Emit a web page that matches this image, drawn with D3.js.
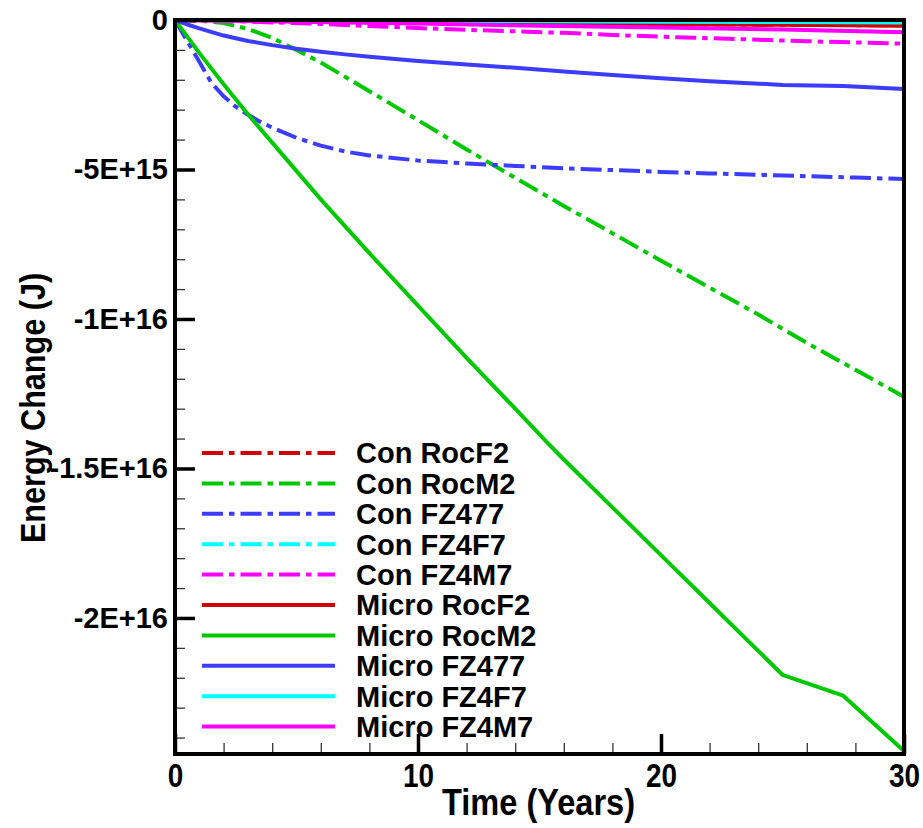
<!DOCTYPE html>
<html>
<head>
<meta charset="utf-8">
<script src="https://cdn.jsdelivr.net/npm/d3@7"></script>
<style>
  html, body { margin: 0; padding: 0; background: #fff; }
  svg { display: block; font-family: "Liberation Sans", Arial, sans-serif; font-weight: bold; }
</style>
</head>
<body>
<div id="chart"></div>
<script>
// Years and energy change (J) for each run
const tRocM2Micro = [0, 1, 2, 3, 4, 6, 8, 10, 12, 14, 15.4, 16, 18, 20, 22, 24, 25, 27.5, 30];
const microRocM2 = [0, -1.1e15, -2.15e15, -3.15e15, -4.1e15, -6.0e15, -7.8e15, -9.55e15, -11.3e15, -13.0e15, -14.2e15,
  -14.7e15, -16.3e15, -17.9e15, -19.5e15, -21.1e15, -21.9e15, -22.6e15, -24.45e15];

const tRocM2Con = [0, 1, 2, 3, 4, 5, 6, 8, 10, 12, 14, 16, 18, 20, 22, 24, 26, 28, 30];
const conRocM2 = [0, -0.03e15, -0.1e15, -0.3e15, -0.6e15, -1.0e15, -1.42e15, -2.38e15, -3.35e15, -4.33e15, -5.28e15,
  -6.22e15, -7.13e15, -8.05e15, -8.95e15, -9.85e15, -10.8e15, -11.7e15, -12.6e15];

const tFZ477Con = [0, 0.5, 1, 1.5, 2, 2.5, 3, 3.5, 4, 5, 6, 7, 8, 10, 12, 14, 16, 18, 20, 22, 25, 28, 30];
const conFZ477 = [0, -0.7e15, -1.4e15, -2.1e15, -2.55e15, -2.9e15, -3.17e15, -3.4e15, -3.6e15, -3.94e15, -4.2e15,
  -4.4e15, -4.53e15, -4.7e15, -4.8e15, -4.88e15, -4.96e15, -5.02e15, -5.08e15, -5.13e15, -5.2e15, -5.27e15, -5.32e15];

const tFZ477Micro = [0, 0.5, 1, 2, 3, 4, 5, 6, 7, 8, 10, 12, 14, 16, 18, 20, 22, 25, 27.5, 30];
const microFZ477 = [0, -0.15e15, -0.28e15, -0.52e15, -0.7e15, -0.84e15, -0.96e15, -1.06e15, -1.15e15, -1.23e15,
  -1.37e15, -1.49e15, -1.6e15, -1.72e15, -1.84e15, -1.95e15, -2.05e15, -2.17e15, -2.21e15, -2.31e15];

const tFZ4M7Con = [0, 2, 4, 6, 8, 10, 12, 14, 16, 18, 20, 22, 24, 26, 28, 30];
const conFZ4M7 = [0, -0.03e15, -0.08e15, -0.13e15, -0.2e15, -0.27e15, -0.33e15, -0.38e15, -0.43e15, -0.5e15,
  -0.56e15, -0.61e15, -0.66e15, -0.71e15, -0.75e15, -0.79e15];

const tSmall = [0, 5, 10, 15, 20, 25, 30];
const microFZ4M7 = [0, -0.06e15, -0.12e15, -0.19e15, -0.25e15, -0.32e15, -0.41e15];
const conRocF2 = [0, -0.04e15, -0.08e15, -0.11e15, -0.14e15, -0.16e15, -0.18e15];
const microRocF2 = [0, -0.03e15, -0.07e15, -0.1e15, -0.13e15, -0.16e15, -0.19e15];
const conFZ4F7 = [0, -0.01e15, -0.02e15, -0.03e15, -0.04e15, -0.05e15, -0.06e15];
const microFZ4F7 = [0, -0.01e15, -0.03e15, -0.04e15, -0.06e15, -0.07e15, -0.08e15];

const seriesNames = ["Con RocF2", "Con RocM2", "Con FZ477", "Con FZ4F7", "Con FZ4M7",
  "Micro RocF2", "Micro RocM2", "Micro FZ477", "Micro FZ4F7", "Micro FZ4M7"];
const seriesColors = ["#d00000", "#00c800", "#3c3cff", "#00ffff", "#ff00ff",
  "#d00000", "#00c800", "#3c3cff", "#00ffff", "#ff00ff"];

const xMajor = [0, 10, 20, 30];
const xMinor = d3.range(2, 30, 2).filter(d => d % 10 !== 0);
const yMajor = [0, -5e15, -1e16, -1.5e16, -2e16];
const yMajorLabels = ["0", "-5E+15", "-1E+16", "-1.5E+16", "-2E+16"];
const yMinor = d3.range(-1e15, -24.5e15, -1e15).filter(d => Math.round(d / 1e15) % 5 !== 0);

// pair up times and values
const zip = (ts, vs) => ts.map((t, i) => ({ t: t, v: vs[i] }));
const lines = [
  zip(tSmall, conRocF2), zip(tRocM2Con, conRocM2), zip(tFZ477Con, conFZ477), zip(tSmall, conFZ4F7), zip(tFZ4M7Con, conFZ4M7),
  zip(tSmall, microRocF2), zip(tRocM2Micro, microRocM2), zip(tFZ477Micro, microFZ477), zip(tSmall, microFZ4F7), zip(tSmall, microFZ4M7)
].map((values, i) => ({ name: seriesNames[i], color: seriesColors[i], dashed: i < 5, values: values }));

const W = 923, H = 828;
const margin = { top: 20, right: 19, bottom: 74, left: 175 };
const width = W - margin.left - margin.right;
const height = H - margin.top - margin.bottom;

const svg = d3.select("#chart").append("svg")
  .attr("width", W).attr("height", H)
  .append("g")
  .attr("transform", `translate(${margin.left},${margin.top})`);

const x = d3.scaleLinear().domain([0, 30]).range([0, width]);
const y = d3.scaleLinear().domain([-2.455e16, 0]).range([height, 0]);

const dashArr = "21,6,5.5,6";

// clip so lines do not spill past the frame
svg.append("clipPath").attr("id", "clip")
  .append("rect").attr("width", width).attr("height", height);

const line = d3.line().x(d => x(d.t)).y(d => y(d.v));

svg.append("g").attr("clip-path", "url(#clip)")
  .selectAll("path")
  .data(lines)
  .enter()
  .append("path")
  .attr("d", d => line(d.values))
  .attr("fill", "none")
  .attr("stroke", d => d.color)
  .attr("stroke-width", 4)
  .attr("stroke-linejoin", "round")
  .attr("stroke-dasharray", d => d.dashed ? dashArr : null);

// minor ticks (inward)
svg.append("g")
  .call(d3.axisLeft(y).tickValues(yMinor).tickSize(-10).tickFormat(""))
  .call(g => g.select(".domain").remove())
  .call(g => g.selectAll("line").attr("stroke", "#333").attr("stroke-width", 1.3));

svg.append("g")
  .attr("transform", `translate(0,${height})`)
  .call(d3.axisBottom(x).tickValues(xMinor).tickSize(-11).tickFormat(""))
  .call(g => g.select(".domain").remove())
  .call(g => g.selectAll("line").attr("stroke", "#333").attr("stroke-width", 1.3));

// major ticks with labels
svg.append("g")
  .call(d3.axisLeft(y).tickValues(yMajor).tickSize(-20).tickPadding(7)
    .tickFormat((d, i) => yMajorLabels[i]))
  .call(g => g.select(".domain").remove())
  .call(g => g.selectAll("line").attr("stroke", "#000").attr("stroke-width", 3.5))
  .call(g => g.selectAll("text")
    .attr("fill", "#000")
    .style("font-size", "29px")
    .style("font-weight", "bold")
    .style("font-family", "'Liberation Sans', Arial, sans-serif"));

svg.append("g")
  .attr("transform", `translate(0,${height})`)
  .call(d3.axisBottom(x).tickValues(xMajor).tickSize(-20).tickPadding(9))
  .call(g => g.select(".domain").remove())
  .call(g => g.selectAll("line").attr("stroke", "#000").attr("stroke-width", 3.5))
  .call(g => g.selectAll("text")
    .attr("fill", "#000")
    .attr("transform", "scale(0.82,1)")
    .style("font-size", "34px")
    .style("font-weight", "bold")
    .style("font-family", "'Liberation Sans', Arial, sans-serif"));

// frame
svg.append("rect")
  .attr("width", width).attr("height", height)
  .attr("fill", "none")
  .attr("stroke", "#000")
  .attr("stroke-width", 4);

// axis titles (narrow, tall lettering as in the original)
svg.append("text")
  .attr("transform", `translate(${width / 2 - 1},${height + 61}) scale(0.88,1)`)
  .attr("text-anchor", "middle")
  .style("font-size", "37px")
  .text("Time (Years)");

svg.append("text")
  .attr("transform", "translate(-130,388) rotate(-90) scale(0.85,1)")
  .attr("text-anchor", "middle")
  .style("font-size", "36px")
  .text("Energy Change (J)");

// legend
const legend = svg.selectAll(".legend")
  .data(lines)
  .enter()
  .append("g")
  .attr("class", "legend")
  .attr("transform", (d, i) => `translate(27,${433 + i * 30.4})`);

legend.append("line")
  .attr("x1", 0).attr("x2", 133)
  .attr("stroke", d => d.color)
  .attr("stroke-width", 4)
  .attr("stroke-dasharray", d => d.dashed ? dashArr : null);

legend.append("text")
  .attr("x", 154)
  .attr("dy", "0.36em")
  .style("font-size", "29px")
  .text(d => d.name);
</script>
</body>
</html>
